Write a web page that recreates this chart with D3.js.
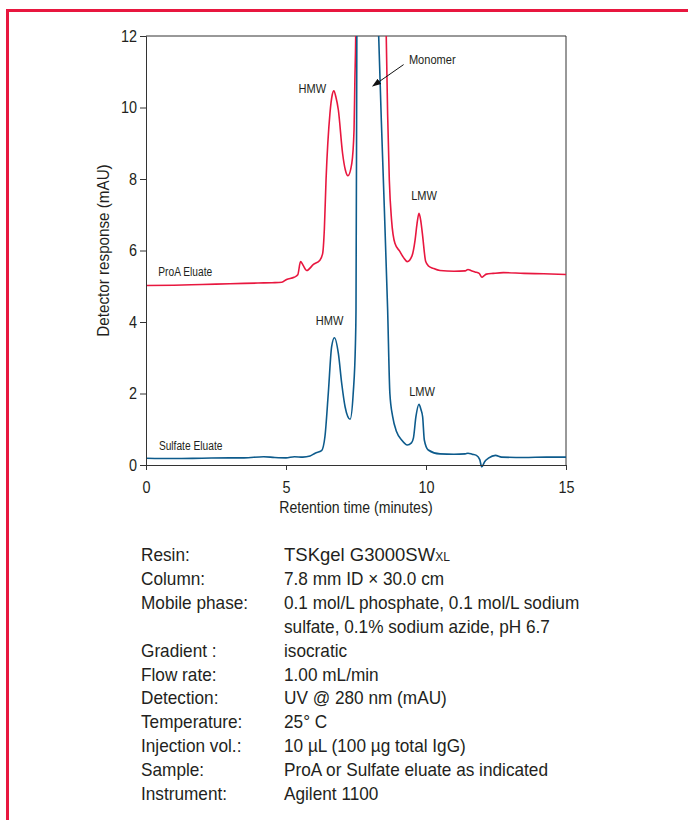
<!DOCTYPE html>
<html>
<head>
<meta charset="utf-8">
<title>SEC chromatogram</title>
<script src="https://cdn.jsdelivr.net/npm/d3@7"></script>
<style>
  body { margin: 0; background: #fff; }
  svg text { font-family: "Liberation Sans Narrow", "Arial Narrow", "Liberation Sans", Arial, sans-serif; fill: #231f20; }
</style>
</head>
<body>
<div id="chart"></div>
<script>
// ProA eluate trace (time in minutes, response in mAU)
var proaTime = [0, 1, 2, 3, 4, 4.5, 4.85, 5.02, 5.29, 5.42, 5.52, 5.6, 5.74, 5.98, 6.21, 6.31, 6.37, 6.43, 6.57, 6.65, 6.71, 6.78, 6.87, 7.02, 7.12, 7.21, 7.35, 7.43, 7.46, 7.49, 7.55, 7.75, 8.0, 8.3, 8.5, 8.58, 8.63, 8.69, 8.77, 8.89, 9.07, 9.2, 9.33, 9.5, 9.61, 9.68, 9.75, 9.81, 9.87, 9.99, 10.1, 10.26, 10.5, 11.0, 11.4, 11.5, 11.6, 11.75, 11.9, 12.0, 12.08, 12.16, 12.4, 12.76, 13.5, 14.2, 15];
var proaValue = [5.02, 5.03, 5.05, 5.07, 5.09, 5.1, 5.11, 5.19, 5.25, 5.32, 5.69, 5.6, 5.44, 5.61, 5.73, 5.92, 6.6, 7.97, 9.84, 10.35, 10.47, 10.3, 9.93, 8.72, 8.25, 8.09, 8.44, 9.37, 10.77, 12, 20, 40, 45, 35, 18, 12, 9.8, 7.97, 6.85, 6.2, 5.97, 5.8, 5.69, 5.85, 6.29, 6.75, 7.04, 6.85, 6.48, 5.69, 5.56, 5.5, 5.44, 5.42, 5.43, 5.47, 5.44, 5.4, 5.36, 5.25, 5.3, 5.34, 5.36, 5.38, 5.36, 5.35, 5.33];

// Sulfate eluate trace
var sulfTime = [0, 1, 2, 3, 3.5, 4.2, 4.6, 5.0, 5.3, 5.6, 5.86, 6.04, 6.27, 6.39, 6.51, 6.63, 6.73, 6.87, 6.99, 7.11, 7.29, 7.4, 7.48, 7.5, 7.53, 7.58, 7.7, 7.9, 8.1, 8.31, 8.45, 8.63, 8.71, 8.81, 8.95, 9.13, 9.33, 9.48, 9.55, 9.64, 9.75, 9.82, 9.88, 9.94, 10.08, 10.5, 11.0, 11.4, 11.5, 11.65, 11.8, 11.92, 11.99, 12.1, 12.23, 12.48, 12.7, 13.5, 14.3, 15];
var sulfValue = [0.19, 0.18, 0.19, 0.2, 0.2, 0.23, 0.21, 0.2, 0.23, 0.22, 0.25, 0.33, 0.4, 0.79, 2.0, 3.31, 3.56, 3.12, 2.28, 1.63, 1.28, 2.0, 3.4, 4.34, 12, 22, 30, 28, 20, 12, 8.6, 4.34, 2.0, 1.35, 0.93, 0.7, 0.56, 0.62, 0.75, 1.35, 1.7, 1.55, 1.35, 0.7, 0.42, 0.31, 0.3, 0.31, 0.33, 0.3, 0.27, 0.15, -0.05, 0.1, 0.19, 0.27, 0.22, 0.21, 0.22, 0.22];

var xMajor = [0, 5, 10, 15];
var yMajor = [0, 2, 4, 6, 8, 10, 12];

// peak annotations
var labelText = ["HMW", "LMW", "HMW", "LMW", "ProA Eluate", "Sulfate Eluate", "Monomer"];
var labelTime = [5.94, 9.93, 6.56, 9.86, 0.44, 0.46, 9.39];
var labelValue = [10.41, 7.4, 3.93, 1.92, 5.29, 0.42, 11.23];

// method conditions table
var condName = ["Resin:", "Column:", "Mobile phase:", "", "Gradient :", "Flow rate:", "Detection:", "Temperature:", "Injection vol.:", "Sample:", "Instrument:"];
var condValue = ["TSKgel G3000SW", "7.8 mm ID \u00d7 30.0 cm", "0.1 mol/L phosphate, 0.1 mol/L sodium", "sulfate, 0.1% sodium azide, pH 6.7", "isocratic", "1.00 mL/min", "UV @ 280 nm (mAU)", "25\u00b0 C", "10 \u00b5L (100 \u00b5g total IgG)", "ProA or Sulfate eluate as indicated", "Agilent 1100"];

var w = 688, h = 820;
var red = "#e8173f", blue = "#0d5b8c", ink = "#231f20";

// squeeze text horizontally to look like the condensed face of the original
function condense(sel, k) {
  sel.each(function() {
    var len = this.getComputedTextLength();
    if (len > 0) d3.select(this).attr("textLength", len * k).attr("lengthAdjust", "spacingAndGlyphs");
  });
}

var svg = d3.select("#chart").append("svg")
  .attr("width", w)
  .attr("height", h);

// red frame (top and left edges)
svg.append("rect").attr("x", 6).attr("y", 9).attr("width", w - 6).attr("height", 3).attr("fill", red);
svg.append("rect").attr("x", 6).attr("y", 9).attr("width", 3).attr("height", h - 9).attr("fill", red);

var x = d3.scaleLinear().domain([0, 15]).range([146, 566]);
var y = d3.scaleLinear().domain([0, 12]).range([465, 36]);

// plot box top + right
svg.append("path")
  .attr("d", "M" + x(0) + "," + y(12) + "H" + x(15) + "V" + y(0))
  .attr("fill", "none").attr("stroke", "#333").attr("stroke-width", 1);

svg.append("clipPath").attr("id", "clip")
  .append("rect")
  .attr("x", x(0)).attr("y", y(12))
  .attr("width", x(15) - x(0)).attr("height", y(-0.3) - y(12));

var line = d3.line()
  .x(function(d) { return x(d[0]); })
  .y(function(d) { return y(d[1]); })
  .curve(d3.curveMonotoneX);

var proa = d3.zip(proaTime, proaValue);
var sulf = d3.zip(sulfTime, sulfValue);

var traces = svg.append("g").attr("clip-path", "url(#clip)");
traces.append("path").datum(proa)
  .attr("d", line).attr("fill", "none")
  .attr("stroke", red).attr("stroke-width", 1.6);
traces.append("path").datum(sulf)
  .attr("d", line).attr("fill", "none")
  .attr("stroke", blue).attr("stroke-width", 1.6);

// axes, major and minor ticks
var gx = svg.append("g").attr("transform", "translate(0," + y(0) + ")");
gx.call(d3.axisBottom(x).tickValues(d3.range(0, 15.01, 1)).tickSize(5).tickFormat(""));
gx.call(d3.axisBottom(x).tickValues(xMajor).tickSize(5).tickPadding(12).tickFormat(d3.format("d")));

var gy = svg.append("g").attr("transform", "translate(" + x(0) + ",0)");
gy.call(d3.axisLeft(y).tickValues(d3.range(0, 12.01, 0.4)).tickSize(4).tickFormat(""));
gy.call(d3.axisLeft(y).tickValues(yMajor).tickSize(6).tickPadding(3).tickFormat(d3.format("d")));

svg.selectAll(".domain").attr("stroke", "#333");
svg.selectAll(".tick line").attr("stroke", "#333");
var tickText = svg.selectAll(".tick text").attr("font-size", 16).attr("font-family", null).attr("fill", ink);
condense(tickText, 0.9);

var xTitle = svg.append("text")
  .attr("x", (x(0) + x(15)) / 2).attr("y", 513)
  .attr("text-anchor", "middle").attr("font-size", 16)
  .text("Retention time (minutes)");

var yTitle = svg.append("text")
  .attr("transform", "translate(109," + y(6) + ") rotate(-90)")
  .attr("text-anchor", "middle").attr("font-size", 16)
  .text("Detector response (mAU)");
condense(xTitle, 0.88);
condense(yTitle, 0.95);

// peak labels
var lbls = svg.selectAll(".lbl").data(labelText).enter().append("text")
  .attr("class", "lbl")
  .attr("x", function(d, i) { return x(labelTime[i]); })
  .attr("y", function(d, i) { return y(labelValue[i]); })
  .attr("text-anchor", function(d, i) { return i < 4 ? "middle" : "start"; })
  .attr("font-size", function(d, i) { return i == 4 || i == 5 ? 12 : 13; })
  .text(function(d) { return d; });
condense(lbls, 0.85);

// monomer arrow
svg.append("defs").append("marker")
  .attr("id", "arrow").attr("viewBox", "0 0 10 10")
  .attr("refX", 9).attr("refY", 5)
  .attr("markerWidth", 9).attr("markerHeight", 9)
  .attr("orient", "auto")
  .append("path").attr("d", "M0,1.5L10,5L0,8.5z").attr("fill", "#111");

svg.append("line")
  .attr("x1", x(9.2)).attr("y1", y(11.2))
  .attr("x2", x(8.1)).attr("y2", y(10.6))
  .attr("stroke", "#111").attr("stroke-width", 1)
  .attr("marker-end", "url(#arrow)");

// conditions table
var rowY = d3.scaleLinear().domain([0, 10]).range([561, 800]);
var tbl = svg.append("g").attr("font-size", 18.5);
var names = tbl.selectAll(".nm").data(condName).enter().append("text")
  .attr("x", 141).attr("y", function(d, i) { return rowY(i); })
  .text(function(d) { return d; });
var vals = tbl.selectAll(".vl").data(condValue).enter().append("text")
  .attr("x", 284).attr("y", function(d, i) { return rowY(i); })
  .text(function(d) { return d; });
// "XL" subscript-like suffix on the resin name
vals.filter(function(d, i) { return i == 0; })
  .append("tspan").attr("font-size", 12).text("XL");
condense(names, 0.93);
condense(vals.filter(function(d, i) { return i > 0; }), 0.93);
</script>
</body>
</html>
